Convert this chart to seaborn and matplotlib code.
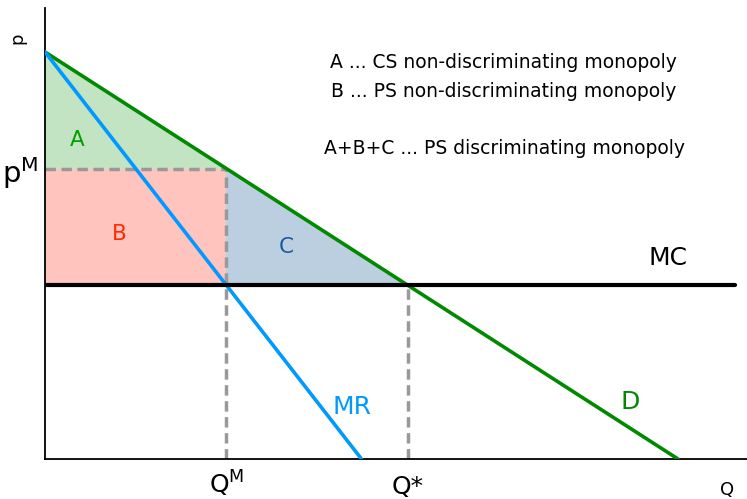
import numpy as np
import matplotlib
matplotlib.use("Agg")
import matplotlib.pyplot as plt
import seaborn as sns

# demand and marginal revenue (linear), constant marginal cost
q_demand = [0, 10]
p_demand = [10, 0]
q_mr = [0, 5]
p_mr = [10, 0]
mc = 4.27
q_mc = [0, 10.9]

q_m = 2.865     # where MR = MC
p_m = 7.135     # price on demand at q_m
q_star = 5.73   # where D = MC

legend_lines = ["A ... CS non-discriminating monopoly",
                "B ... PS non-discriminating monopoly",
                "A+B+C ... PS discriminating monopoly"]

sns.set_theme(style="white")
plt.rcParams['font.family'] = ['DejaVu Sans']
plt.rcParams['text.color'] = 'black'
plt.rcParams['xtick.color'] = 'black'
plt.rcParams['ytick.color'] = 'black'

fig = plt.figure(figsize=(7.47, 4.99), dpi=100)
ax = fig.add_axes([45/747, 40/499, 702/747, 451/499])

# shaded areas
ax.fill([0, 0, q_m], [10, p_m, p_m], color='#c2e4c2', lw=0, zorder=1)
ax.fill([0, q_m, q_m, 0], [p_m, p_m, mc, mc], color='#ffc4bd', lw=0, zorder=1)
ax.fill([q_m, q_m, q_star], [p_m, mc, mc], color='#bccfe0', lw=0, zorder=1)

# guide lines
dash = (0, (3, 1.6))
ax.plot([0, q_m], [p_m, p_m], ls=dash, color='#999999', lw=2.5, zorder=2)
ax.plot([q_m, q_m], [0, p_m], ls=dash, color='#999999', lw=2.5, zorder=2)
ax.plot([q_star, q_star], [0, mc], ls=dash, color='#999999', lw=2.5, zorder=2)

sns.lineplot(x=q_demand, y=p_demand, ax=ax, color='#008a00', lw=2.6, zorder=3)
sns.lineplot(x=q_mr, y=p_mr, ax=ax, color='#0099ff', lw=2.6, zorder=3)
sns.lineplot(x=q_mc, y=[mc, mc], ax=ax, color='black', lw=3, zorder=4)

ax.set_xlim(0, 11.09)
ax.set_ylim(0, 11.08)

sns.despine(ax=ax)
for s in ['left', 'bottom']:
    ax.spines[s].set_color('black')
    ax.spines[s].set_linewidth(1.3)

ax.set_xticks([])
ax.set_yticks([p_m])
ax.set_yticklabels([r'$\mathregular{p^M}$'], fontsize=21)
ax.tick_params(length=0, pad=5)

# quantity labels on the x axis, same baseline
xt = ax.get_xaxis_transform()
ax.text(q_m, -0.077, r'$\mathregular{Q^M}$', transform=xt, fontsize=18,
        ha='center', va='baseline', clip_on=False)
ax.text(q_star, -0.077, 'Q*', transform=xt, fontsize=18,
        ha='center', va='baseline', clip_on=False)

# area / curve labels
ax.text(0.505, 7.84, 'A', color='#00a000', fontsize=15.5, ha='center', va='center')
ax.text(1.18, 5.53, 'B', color='#ff2a00', fontsize=15.5, ha='center', va='center')
ax.text(3.81, 5.21, 'C', color='#1a5aa0', fontsize=15.5, ha='center', va='center')
ax.text(9.84, 4.94, 'MC', color='black', fontsize=18, ha='center', va='center')
ax.text(4.85, 1.28, 'MR', color='#0099ff', fontsize=18, ha='center', va='center')
ax.text(9.24, 1.40, 'D', color='#008a00', fontsize=18, ha='center', va='center')

ax.text(7.24, 9.75, legend_lines[0], fontsize=13.5, ha='center', va='center')
ax.text(7.24, 9.02, legend_lines[1], fontsize=13.5, ha='center', va='center')
ax.text(7.26, 7.64, legend_lines[2], fontsize=13.5, ha='center', va='center')

fig.text(17/747, 1 - 38/499, 'p', fontsize=13, rotation=90, ha='center', va='center')
fig.text(727/747, 1 - 490/499, 'Q', fontsize=13, ha='center', va='center')

fig.savefig('out.png', dpi=100)
